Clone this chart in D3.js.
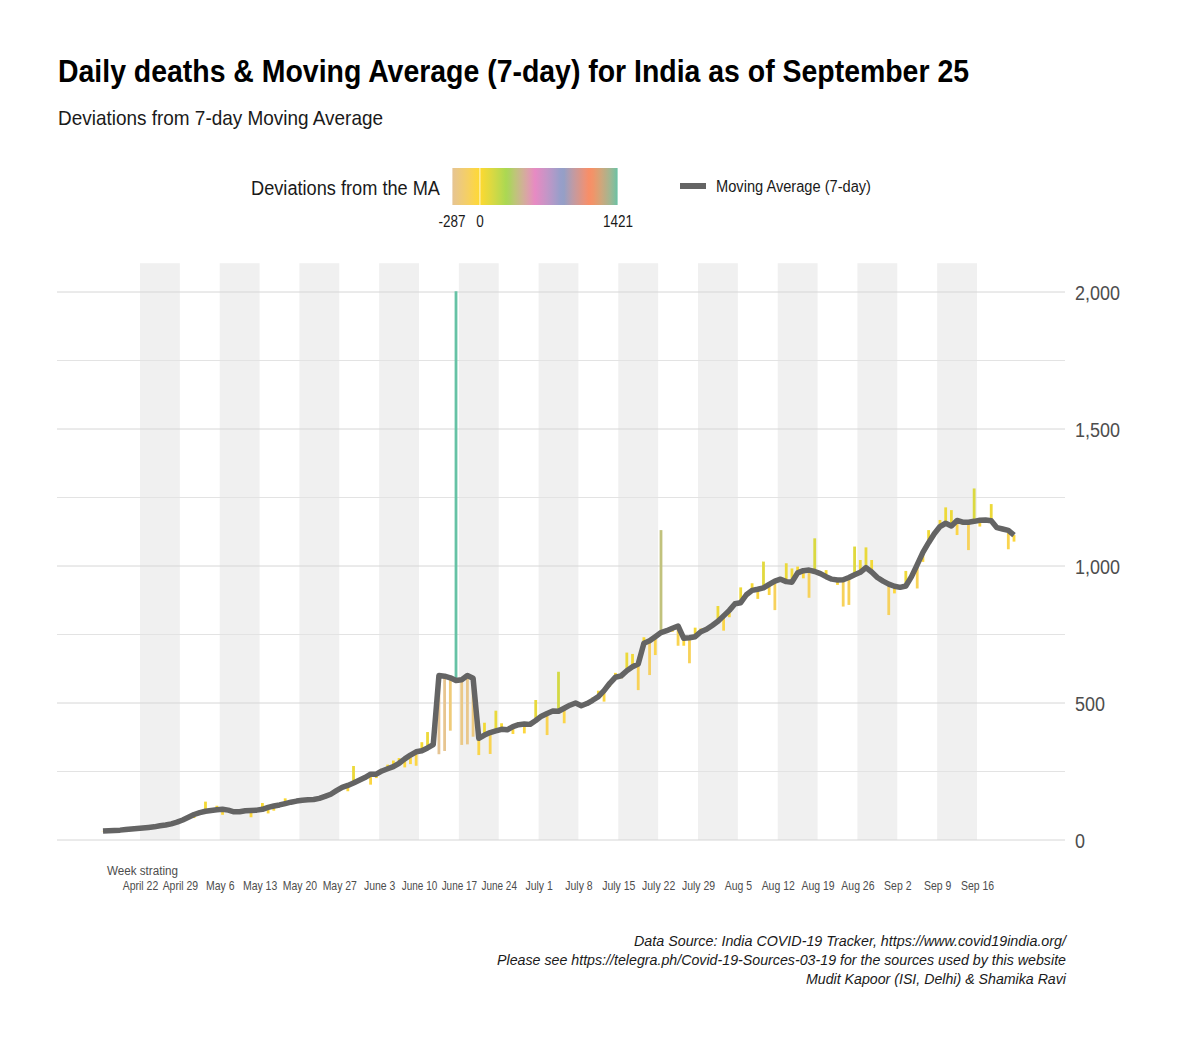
<!DOCTYPE html>
<html><head><meta charset="utf-8">
<script src="https://cdn.jsdelivr.net/npm/d3@7"></script>
<style>body{margin:0;background:#fff}svg{display:block;font-family:"Liberation Sans",Arial,sans-serif}</style>
</head><body>
<svg id="c" width="1200" height="1046"></svg>
<script>
// ---------- data ----------
const firstDay = "2020-04-15"; // first day with a 7-day (centred) moving average
const movingAvg = [
 33,34,35,36,38,40,42,44,46,48,
 52,55,59,65,73,83,93,100,105,108,
 110,112,109,103,103,107,108,109,112,119,
 124,128,133,138,142,145,147,148,152,159,
 167,180,192,199,208,218,228,240,240,252,
 260,268,280,296,310,322,326,336,348,600,
 598,592,582,585,600,590,371,383,392,398,
 404,402,414,421,423,422,436,452,462,471,
 470,481,492,500,490,498,510,523,545,572,
 594,599,618,632,642,718,727,742,757,764,
 773,781,736,738,742,760,769,783,798,818,
 838,862,866,895,911,915,920,933,945,952,
 943,941,975,983,985,980,972,961,952,949,
 950,958,968,977,994,978,958,945,934,926,
 922,927,961,1005,1050,1085,1118,1144,1156,1146,
 1166,1160,1160,1163,1167,1168,1165,1140,1135,1130,
 1113];
const dailyDeaths = [
 32,36,33,38,36,42,40,45,44,50,
 48,58,54,60,68,78,80,104,140,110,
 125,92,112,100,106,104,83,114,135,97,
 107,130,152,134,144,140,150,146,156,160,
 170,178,195,178,270,220,230,202,226,260,
 275,290,299,265,277,271,357,394,355,313,
 325,399,2003,347,349,377,310,428,314,472,
 426,410,387,430,389,425,511,460,383,466,
 614,426,498,506,482,505,520,545,505,560,
 610,590,684,679,547,740,602,675,1131,770,
 760,709,709,645,775,772,762,790,854,764,
 813,870,922,890,937,880,1016,894,839,960,
 1010,991,998,955,884,1101,978,985,945,931,
 852,858,1071,1022,1068,1022,960,948,821,900,
 920,982,975,918,1015,1131,1120,1168,1214,1204,
 1113,1150,1058,1283,1144,1175,1226,1140,1130,1061,
 1089];
const weekStarts = ["2020-04-22","2020-04-29","2020-05-06","2020-05-13","2020-05-20","2020-05-27",
 "2020-06-03","2020-06-10","2020-06-17","2020-06-24","2020-07-01","2020-07-08","2020-07-15",
 "2020-07-22","2020-07-29","2020-08-05","2020-08-12","2020-08-19","2020-08-26","2020-09-02",
 "2020-09-09","2020-09-16"];
const weekLabels = ["April 22","April 29","May 6","May 13","May 20","May 27","June 3","June 10",
 "June 17","June 24","July 1","July 8","July 15","July 22","July 29","Aug 5","Aug 12","Aug 19",
 "Aug 26","Sep 2","Sep 9","Sep 16"];
const yTickValues = [0,500,1000,1500,2000];
const yGridValues = [0,250,500,750,1000,1250,1500,1750,2000];
const legendBreaks = [-287,0,1421];
const palette = ["#E5C494","#FFD92F","#A6D854","#E78AC3","#8DA0CB","#FC8D62","#66C2A5"];
const captionLines = [
 "Data Source: India COVID-19 Tracker, https://www.covid19india.org/",
 "Please see https://telegra.ph/Covid-19-Sources-03-19 for the sources used by this website",
 "Mudit Kapoor (ISI, Delhi) & Shamika Ravi"];

// ---------- setup ----------
const svg = d3.select("#c");
svg.append("rect").attr("width",1200).attr("height",1046).attr("fill","#fff");
const parse = d3.timeParse("%Y-%m-%d");
const day0 = parse(firstDay);
const rows = movingAvg.map((m,i)=>({date:d3.timeHour.offset(d3.timeDay.offset(day0,i),12), ma:m, daily:dailyDeaths[i], dev:dailyDeaths[i]-m}));
const weekDates = weekStarts.map(parse);

const x = d3.scaleTime().domain([weekDates[0], weekDates[weekDates.length-1]]).range([140,977]);
const y = d3.scaleLinear().domain([0,2000]).range([840,292]);
const panelLeft = 57, panelRight = 1065, panelTop = y(2105);

const devMin = legendBreaks[0], devMax = legendBreaks[2];
const stops = palette.map((c,i)=>devMin + (devMax-devMin)*i/(palette.length-1));
const color = d3.scaleLinear().domain(stops).range(palette).interpolate(d3.interpolateLab).clamp(true);

function fitTo(node, w){ node.setAttribute("textLength", w); node.setAttribute("lengthAdjust","spacingAndGlyphs"); }

// ---------- bands ----------
const bandG = svg.append("g");
weekDates.forEach((d,i)=>{
  if(i%2===0 && i<weekDates.length-1){
    bandG.append("rect").attr("x",x(d)).attr("width",x(d3.timeDay.offset(d,7))-x(d))
      .attr("y",panelTop).attr("height",y(0)-panelTop).attr("fill","#F0F0F0");
  }
});
// ---------- grid ----------
svg.append("g").selectAll("line").data(yGridValues).join("line")
  .attr("x1",panelLeft).attr("x2",panelRight).attr("y1",d=>y(d)).attr("y2",d=>y(d))
  .attr("stroke",d=>d%500===0?"#D6D6D6":"#E3E3E3").attr("stroke-width",1);

// ---------- axes ----------
const yAxis = svg.append("g").attr("transform","translate(1075,0)")
  .call(d3.axisRight(y).tickValues(yTickValues).tickFormat(d3.format(",")).tickSize(0).tickPadding(0));
yAxis.select(".domain").remove();
yAxis.selectAll("text").attr("font-size",20).attr("fill","#4D4D4D").attr("font-family","Liberation Sans, Arial, sans-serif").attr("x",0).attr("dy","0.36em");
{
  const ref = yAxis.selectAll("text").filter(d=>d===2000).node();
  const f = 45/ref.getComputedTextLength();
  yAxis.selectAll("text").each(function(){ fitTo(this, this.getComputedTextLength()*f); });
}
const xAxis = svg.append("g").attr("transform","translate(0,890)")
  .call(d3.axisBottom(x).tickValues(weekDates).tickFormat((d,i)=>weekLabels[i]).tickSize(0).tickPadding(0));
xAxis.select(".domain").remove();
xAxis.selectAll("text").attr("font-size",12.5).attr("fill","#4D4D4D")
  .attr("font-family","Liberation Sans Narrow, Liberation Sans, Arial, sans-serif").attr("y",0).attr("dy",0);
{
  const ref = xAxis.selectAll("text").filter((d,i)=>i===0).node();
  const f = 35.5/ref.getComputedTextLength();
  xAxis.selectAll("text").each(function(){
    const w = this.getComputedTextLength();
    const s = Math.min(f, 35.5/w);
    this.setAttribute("transform","scale("+s+",1)");
  });
}
const wk = svg.append("text").attr("x",107).attr("y",875).attr("font-size",12.5).attr("fill","#4D4D4D").text("Week strating");
fitTo(wk.node(),71);

// ---------- bars ----------
svg.append("g").selectAll("line").data(rows).join("line")
  .attr("x1",d=>x(d.date)).attr("x2",d=>x(d.date))
  .attr("y1",d=>y(d.ma)).attr("y2",d=>y(d.daily))
  .attr("stroke",d=>color(d.dev)).attr("stroke-width",2.8);

// ---------- moving average ----------
svg.append("path").datum(rows)
  .attr("d",d3.line().x(d=>x(d.date)).y(d=>y(d.ma)))
  .attr("fill","none").attr("stroke","#646464").attr("stroke-width",5.5).attr("stroke-linejoin","round");

// ---------- titles ----------
const t = svg.append("text").attr("x",58).attr("y",82).attr("font-size",32).attr("font-weight","bold").attr("fill","#000")
  .text("Daily deaths & Moving Average (7-day) for India as of September 25");
fitTo(t.node(),911);
const st = svg.append("text").attr("x",58).attr("y",125).attr("font-size",21).attr("fill","#1A1A1A")
  .text("Deviations from 7-day Moving Average");
fitTo(st.node(),325);

// ---------- legend ----------
const lt = svg.append("text").attr("x",251).attr("y",195).attr("font-size",20).attr("fill","#1A1A1A").text("Deviations from the MA");
fitTo(lt.node(),189);
const barX0 = 452, barX1 = 618, barY0 = 168, barY1 = 205;
const lx = d3.scaleLinear().domain([devMin,devMax]).range([barX0,barX1]);
const grad = svg.append("defs").append("linearGradient").attr("id","g1").attr("x1","0%").attr("x2","100%");
d3.range(0,41).forEach(i=>{
  const v = devMin + (devMax-devMin)*i/40;
  grad.append("stop").attr("offset",(i/40*100)+"%").attr("stop-color",color(v));
});
svg.append("rect").attr("x",barX0).attr("y",barY0).attr("width",barX1-barX0).attr("height",barY1-barY0).attr("fill","url(#g1)");
svg.append("g").selectAll("line").data(legendBreaks).join("line")
  .attr("x1",d=>lx(d)).attr("x2",d=>lx(d)).attr("y1",barY0).attr("y2",barY1)
  .attr("stroke","#fff").attr("stroke-width",1).attr("stroke-opacity",0.8);
const ll = svg.append("g").selectAll("text").data(legendBreaks).join("text")
  .attr("x",d=>lx(d)).attr("y",227).attr("text-anchor","middle").attr("font-size",16).attr("fill","#1A1A1A")
  .text(d=>String(d));
{
  const f = 30/ll.filter(d=>d===1421).node().getComputedTextLength();
  ll.each(function(){ fitTo(this, this.getComputedTextLength()*f); });
}
svg.append("line").attr("x1",680).attr("x2",706).attr("y1",186).attr("y2",186).attr("stroke","#646464").attr("stroke-width",6);
const mt = svg.append("text").attr("x",716).attr("y",192).attr("font-size",16).attr("fill","#1A1A1A").text("Moving Average (7-day)");
fitTo(mt.node(),155);

// ---------- caption ----------
const capW = [432,569,260], capY = [946,965,984];
captionLines.forEach((s,i)=>{
  const c = svg.append("text").attr("x",1066).attr("y",capY[i]).attr("text-anchor","end").attr("font-size",15)
    .attr("font-style","italic").attr("fill","#1A1A1A").text(s);
  fitTo(c.node(),capW[i]);
});
</script>
</body></html>
